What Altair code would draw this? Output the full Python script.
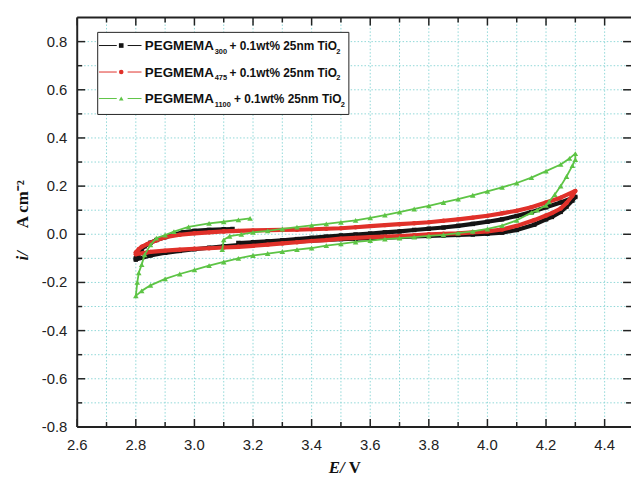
import altair as alt
import pandas as pd

# ---------------- data ----------------
SERIES = ["PEGMEMA300", "PEGMEMA475", "PEGMEMA1100"]
SUBS = ["300", "475", "1100"]
COLORS = ["#141414", "#E0312A", "#5DC445"]
SHAPES = ["square", "circle", "triangle-up"]

BLACK_E = [3.15, 3.2, 3.25, 3.3, 3.35, 3.4, 3.45, 3.5, 3.55, 3.6, 3.65, 3.7, 3.75, 3.8, 3.85, 3.9, 3.95, 4.0,
           4.05, 4.1, 4.15, 4.2, 4.25, 4.3,
           4.29, 4.27, 4.25, 4.22, 4.2, 4.16, 4.1, 4.05, 4.0, 3.95, 3.9, 3.85, 3.8, 3.75, 3.7, 3.65, 3.6, 3.55,
           3.5, 3.45, 3.4, 3.35, 3.3, 3.25, 3.2, 3.15, 3.1, 3.05, 3.0, 2.95, 2.9, 2.85, 2.8,
           2.8, 2.81, 2.82, 2.83, 2.85, 2.87, 2.9, 2.93, 2.96, 3.0, 3.05, 3.1, 3.13]
BLACK_I = [-0.036, -0.033, -0.029, -0.025, -0.02, -0.015, -0.01, -0.005, -0.001, 0.003, 0.008, 0.012, 0.018,
           0.023, 0.028, 0.035, 0.043, 0.052, 0.062, 0.076, 0.092, 0.112, 0.132, 0.155,
           0.14, 0.115, 0.093, 0.072, 0.062, 0.04, 0.018, 0.007, 0.002, -0.001, -0.003, -0.005, -0.007, -0.009,
           -0.012, -0.014, -0.016, -0.018, -0.02, -0.023, -0.027, -0.03, -0.033, -0.036, -0.04, -0.045, -0.05,
           -0.056, -0.062, -0.069, -0.077, -0.088, -0.105,
           -0.1, -0.08, -0.062, -0.05, -0.035, -0.024, -0.012, -0.002, 0.008, 0.014, 0.018, 0.021, 0.022]

RED_E = [3.1, 3.15, 3.2, 3.25, 3.3, 3.35, 3.4, 3.45, 3.5, 3.55, 3.6, 3.65, 3.7, 3.75, 3.8, 3.85, 3.9, 3.95, 4.0,
         4.05, 4.1, 4.15, 4.2, 4.25, 4.3,
         4.29, 4.27, 4.25, 4.22, 4.2, 4.16, 4.1, 4.05, 4.0, 3.95, 3.9, 3.85, 3.8, 3.75, 3.7, 3.65, 3.6, 3.55,
         3.5, 3.45, 3.4, 3.35, 3.3, 3.25, 3.2, 3.15, 3.1, 3.05, 3.0, 2.95, 2.9, 2.85, 2.8,
         2.8, 2.81, 2.82, 2.84, 2.87, 2.9, 2.95, 3.0, 3.05, 3.1]
RED_I = [0.012, 0.014, 0.016, 0.017, 0.018, 0.019, 0.021, 0.023, 0.025, 0.029, 0.034, 0.038, 0.042, 0.046,
         0.05, 0.056, 0.062, 0.069, 0.077, 0.087, 0.098, 0.112, 0.132, 0.152, 0.18,
         0.16, 0.13, 0.107, 0.088, 0.078, 0.059, 0.035, 0.02, 0.012, 0.008, 0.004, 0.002, 0.0, -0.004, -0.007,
         -0.01, -0.012, -0.015, -0.018, -0.024, -0.028, -0.033, -0.038, -0.043, -0.048, -0.052, -0.055,
         -0.058, -0.06, -0.064, -0.068, -0.073, -0.083,
         -0.075, -0.062, -0.052, -0.04, -0.025, -0.012, -0.002, 0.004, 0.008, 0.012]

GREEN_E = [3.095, 3.1, 3.12, 3.16, 3.2, 3.25, 3.3, 3.35, 3.4, 3.45, 3.5, 3.55, 3.6, 3.65, 3.7, 3.75, 3.8, 3.85,
           3.9, 3.95, 4.0, 4.05, 4.1, 4.15, 4.2, 4.25, 4.28, 4.3,
           4.3, 4.29, 4.27, 4.25, 4.23, 4.21, 4.2,
           4.17, 4.15, 4.1, 4.05, 4.0, 3.95, 3.9, 3.85, 3.8, 3.75, 3.7, 3.65, 3.6, 3.55, 3.5, 3.45, 3.4, 3.35,
           3.3, 3.25, 3.2, 3.15, 3.1, 3.05, 3.0, 2.95, 2.9, 2.85, 2.82, 2.8,
           2.805, 2.81, 2.82, 2.83, 2.85, 2.87, 2.9, 2.93, 2.98, 3.05, 3.1, 3.15, 3.19]
GREEN_I = [-0.064, -0.023, -0.008, 0.0, 0.008, 0.014, 0.022, 0.03, 0.037, 0.043, 0.05, 0.058, 0.068, 0.08,
           0.092, 0.105, 0.118, 0.132, 0.146, 0.162, 0.178, 0.195, 0.213, 0.235, 0.262, 0.29, 0.315, 0.335,
           0.31, 0.285, 0.24, 0.2, 0.165, 0.135, 0.12,
           0.1, 0.09, 0.058, 0.036, 0.022, 0.012, 0.005, -0.002, -0.007, -0.012, -0.016, -0.02, -0.026, -0.032,
           -0.04, -0.047, -0.057, -0.064, -0.072, -0.08, -0.088, -0.1, -0.115, -0.13, -0.148, -0.165, -0.185,
           -0.212, -0.235, -0.256,
           -0.2, -0.16, -0.126, -0.085, -0.044, -0.016, -0.003, 0.011, 0.031, 0.045, 0.052, 0.06, 0.066]

X_MAJOR = [2.6, 2.8, 3.0, 3.2, 3.4, 3.6, 3.8, 4.0, 4.2, 4.4]
X_LABELS = ["2.6", "2.8", "3.0", "3.2", "3.4", "3.6", "3.8", "4.0", "4.2", "4.4"]
X_MINOR = [2.7, 2.9, 3.1, 3.3, 3.5, 3.7, 3.9, 4.1, 4.3]
X_GRID = [2.7, 2.8, 2.9, 3.0, 3.1, 3.2, 3.3, 3.4, 3.5, 3.6, 3.7, 3.8, 3.9, 4.0, 4.1, 4.2, 4.3, 4.4]
Y_MAJOR = [-0.8, -0.6, -0.4, -0.2, 0.0, 0.2, 0.4, 0.6, 0.8]
Y_LABELS = ["-0.8", "-0.6", "-0.4", "-0.2", "0.0", "0.2", "0.4", "0.6", "0.8"]
Y_MINOR = [-0.7, -0.5, -0.3, -0.1, 0.1, 0.3, 0.5, 0.7]
Y_GRID = [-0.7, -0.6, -0.5, -0.4, -0.3, -0.2, -0.1, 0.0, 0.1, 0.2, 0.3, 0.4, 0.5, 0.6, 0.7, 0.8]

LEGEND_HEAD = "PEGMEMA"
LEGEND_TAIL = "+ 0.1wt% 25nm TiO"

# ---------------- layout ----------------
W, H = 560, 414
xs = alt.Scale(domain=[2.6, 4.49], nice=False, zero=False)
ys = alt.Scale(domain=[-0.8, 0.9], nice=False, zero=False)
GRID_COLOR = "#8FD8D8"
AX = "#222222"
TXT = "#111111"
one = alt.Data(values=[{"a": 0}])

layers = []

# grid
layers.append(
    alt.Chart(pd.DataFrame({"E": X_GRID})).mark_rule(color=GRID_COLOR, strokeWidth=1, strokeDash=[1.5, 2])
    .encode(x=alt.X("E:Q", scale=xs, axis=None), y=alt.value(0), y2=alt.value(H))
)
layers.append(
    alt.Chart(pd.DataFrame({"I": Y_GRID})).mark_rule(color=GRID_COLOR, strokeWidth=1, strokeDash=[1.5, 2])
    .encode(y=alt.Y("I:Q", scale=ys, axis=None), x=alt.value(0), x2=alt.value(W))
)

# curves
curves = [(BLACK_E, BLACK_I, 4.2, 20), (RED_E, RED_I, 4.2, 20), (GREEN_E, GREEN_I, 1.8, 32)]
for k, (es, iv, sw, msize) in enumerate(curves):
    df = pd.DataFrame({"E": es, "I": iv, "order": list(range(len(es)))})
    base = alt.Chart(df).encode(x=alt.X("E:Q", scale=xs, axis=None), y=alt.Y("I:Q", scale=ys, axis=None))
    layers.append(base.mark_line(color=COLORS[k], strokeWidth=sw, strokeJoin="round").encode(order="order:Q"))
    layers.append(base.mark_point(color=COLORS[k], filled=True, opacity=1, size=msize, shape=SHAPES[k]))

# legend box
layers.append(alt.Chart(one).mark_rect(fill="white", stroke=AX, strokeWidth=1).encode(
    x=alt.value(20.7), x2=alt.value(274.7), y=alt.value(15), y2=alt.value(98)))
for k in range(3):
    ry = 28.3 + 26.8 * k
    layers.append(alt.Chart(one).mark_rule(color=COLORS[k], strokeWidth=1).encode(
        x=alt.value(22), x2=alt.value(40), y=alt.value(ry)))
    layers.append(alt.Chart(one).mark_rule(color=COLORS[k], strokeWidth=1).encode(
        x=alt.value(51), x2=alt.value(65), y=alt.value(ry)))
    layers.append(alt.Chart(one).mark_point(color=COLORS[k], filled=True, opacity=1, size=22,
                                            shape=SHAPES[k]).encode(x=alt.value(44.5), y=alt.value(ry)))
    layers.append(alt.Chart(one).mark_text(text=LEGEND_HEAD, font="Liberation Sans", fontWeight="bold",
                                           fontSize=13.5, align="left", baseline="alphabetic", color=TXT)
                  .encode(x=alt.value(68.4), y=alt.value(ry + 5)))
    layers.append(alt.Chart(one).mark_text(text=SUBS[k], font="Liberation Sans", fontWeight="bold",
                                           fontSize=7.5, align="left", baseline="alphabetic", color=TXT)
                  .encode(x=alt.value(139), y=alt.value(ry + 8.5)))
    tx = 158.5 if k == 2 else 154
    layers.append(alt.Chart(one).mark_text(text=LEGEND_TAIL, font="Liberation Sans", fontWeight="bold",
                                           fontSize=12, align="left", baseline="alphabetic", color=TXT)
                  .encode(x=alt.value(tx), y=alt.value(ry + 5)))
    layers.append(alt.Chart(one).mark_text(text="2", font="Liberation Sans", fontWeight="bold",
                                           fontSize=7.5, align="left", baseline="alphabetic", color=TXT)
                  .encode(x=alt.value(tx + 108), y=alt.value(ry + 8.5)))

# ticks (inward)
def vt(vals, y0, y1):
    return alt.Chart(pd.DataFrame({"E": vals})).mark_rule(color=AX, strokeWidth=1.5).encode(
        x=alt.X("E:Q", scale=xs, axis=None), y=alt.value(y0), y2=alt.value(y1))

def ht(vals, x0, x1):
    return alt.Chart(pd.DataFrame({"I": vals})).mark_rule(color=AX, strokeWidth=1.5).encode(
        y=alt.Y("I:Q", scale=ys, axis=None), x=alt.value(x0), x2=alt.value(x1))

layers += [vt(X_MAJOR, H, H - 8), vt(X_MINOR, H, H - 5), vt(X_MAJOR, 0, 8), vt(X_MINOR, 0, 5),
           ht(Y_MAJOR, 0, 8), ht(Y_MINOR, 0, 5), ht(Y_MAJOR, W, W - 8), ht(Y_MINOR, W, W - 5)]

# frame lines (left, bottom, top)
layers.append(alt.Chart(one).mark_rule(color=AX, strokeWidth=2).encode(
    x=alt.value(0), x2=alt.value(W), y=alt.value(0)))
layers.append(alt.Chart(one).mark_rule(color=AX, strokeWidth=2).encode(
    x=alt.value(0), x2=alt.value(W), y=alt.value(H)))
layers.append(alt.Chart(one).mark_rule(color=AX, strokeWidth=2).encode(
    x=alt.value(0), y=alt.value(0), y2=alt.value(H)))

# tick labels
layers.append(alt.Chart(pd.DataFrame({"E": X_MAJOR, "lab": X_LABELS})).mark_text(
    font="Liberation Sans", fontSize=15, color=AX, align="center", baseline="alphabetic").encode(
    x=alt.X("E:Q", scale=xs, axis=None), y=alt.value(H + 23), text="lab:N"))
layers.append(alt.Chart(pd.DataFrame({"I": Y_MAJOR, "lab": Y_LABELS})).mark_text(
    font="Liberation Sans", fontSize=15, color=AX, align="right", baseline="middle").encode(
    y=alt.Y("I:Q", scale=ys, axis=None), x=alt.value(-10), text="lab:N"))

# axis titles
layers.append(alt.Chart(one).mark_text(text="E/", font="Liberation Serif", fontWeight="bold",
                                       fontStyle="italic", fontSize=17, align="right", baseline="alphabetic",
                                       color=TXT).encode(x=alt.value(270.5), y=alt.value(H + 47)))
layers.append(alt.Chart(one).mark_text(text="V", font="Liberation Serif", fontWeight="bold",
                                       fontSize=17, align="left", baseline="alphabetic",
                                       color=TXT).encode(x=alt.value(274.5), y=alt.value(H + 47)))
layers.append(alt.Chart(one).mark_text(text="i/", font="Liberation Serif", fontWeight="bold",
                                       fontStyle="italic", fontSize=17, align="center", baseline="alphabetic",
                                       angle=270, color=TXT).encode(x=alt.value(-50), y=alt.value(241)))
layers.append(alt.Chart(one).mark_text(text="A cm⁻²", font="Liberation Serif", fontWeight="bold",
                                       fontSize=17, align="left", baseline="alphabetic",
                                       angle=270, color=TXT).encode(x=alt.value(-50), y=alt.value(213)))

chart = alt.layer(*layers).properties(
    width=W, height=H,
    padding={"left": 70, "top": 7, "right": 0, "bottom": 50},
    autosize=alt.AutoSizeParams(type="none"),
).configure_view(stroke=None)

chart.save("out.html", embed_options={"renderer": "svg", "actions": False})
